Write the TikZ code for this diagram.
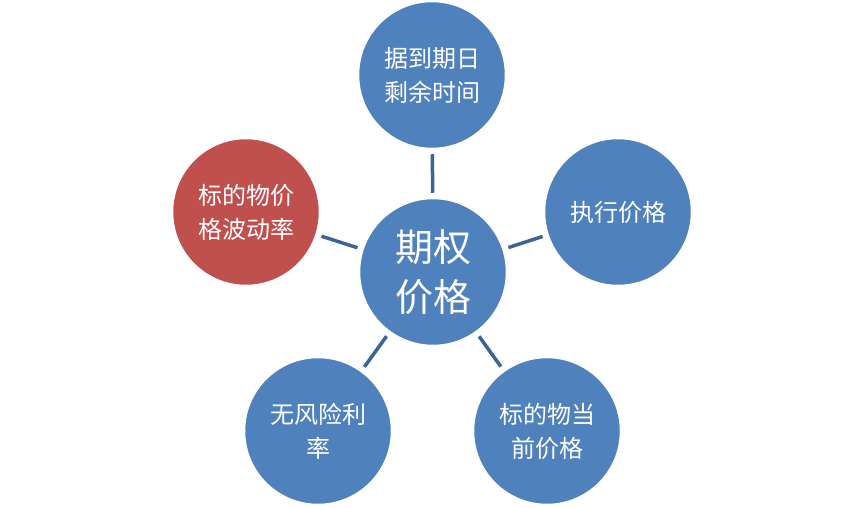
\documentclass[tikz,border=0pt]{standalone}
\usepackage{fontspec}
\newfontfamily\cjk{Noto Sans CJK SC}
\definecolor{cblue}{HTML}{4F81BD}
\definecolor{cred}{HTML}{C0504D}
\definecolor{cline}{HTML}{3C6497}
\begin{document}
\begin{tikzpicture}[x=1pt,y=-1pt,
  bub/.style={circle,fill=cblue,draw=white,line width=1.5pt,minimum size=147pt,inner sep=0pt,
    text=white,align=center,font=\cjk\fontsize{24}{34}\selectfont},
  hub/.style={bub,font=\cjk\fontsize{38}{50}\selectfont},
  conn/.style={cline,line width=3.5pt,shorten <=5pt,shorten >=5pt}]
\useasboundingbox (0,0) rectangle (865,508);
\node[hub] (c) at (433,272) {期权\\价格};
\node[bub] (t) at (432,75) {据到期日\\剩余时间};
\node[bub] (r) at (618,212) {执行价格};
\node[bub,fill=cred] (l) at (246,212) {标的物价\\格波动率};
\node[bub] (bl) at (318,431) {无风险利\\率};
\node[bub] (br) at (547,431) {标的物当\\前价格};
\draw[conn] (c) -- (t);
\draw[conn] (c) -- (r);
\draw[conn] (c) -- (l);
\draw[conn] (c) -- (bl);
\draw[conn] (c) -- (br);
\end{tikzpicture}
\end{document}
